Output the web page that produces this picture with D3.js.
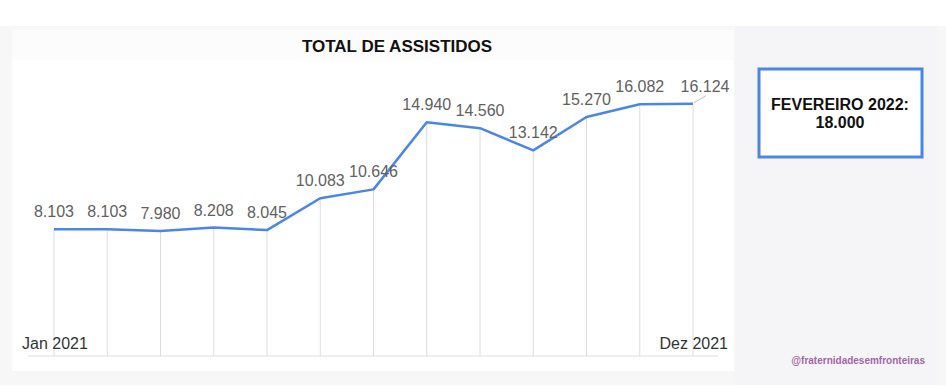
<!DOCTYPE html>
<meta charset="utf-8">
<script src="https://d3js.org/d3.v7.min.js"></script>
<style>
  body { margin: 0; background: #fff; }
  svg text { font-family: Arial, "Liberation Sans", sans-serif; }
</style>
<div id="chart"></div>
<script>
// data (13 points, first labelled Jan 2021, last Dez 2021)
var months = ["Jan 2021", "Fev 2021", "Mar 2021", "Abr 2021", "Mai 2021", "Jun 2021",
              "Jul 2021", "Ago 2021", "Set 2021", "Out 2021", "Nov 2021", "Dez 2021", "Dez 2021*"];
var assistidos = [8103, 8103, 7980, 8208, 8045, 10083, 10646, 14940, 14560, 13142, 15270, 16082, 16124];
var axisLabels = ["Jan 2021", "Dez 2021"];
var title = "TOTAL DE ASSISTIDOS";
var boxLines = ["FEVEREIRO 2022:", "18.000"];
var handle = "@fraternidadesemfronteiras";

var W = 946, H = 388;

var pt = d3.formatLocale({decimal: ",", thousands: ".", grouping: [3], currency: ["R$", ""]}).format(",");

var svg = d3.select("#chart").append("svg")
    .attr("width", W)
    .attr("height", H);

// page background (light grey paper, white strip on top)
svg.append("rect").attr("x", 0).attr("y", 26).attr("width", W).attr("height", 359).attr("fill", "#f7f7f8");
svg.append("rect").attr("x", 735).attr("y", 26).attr("width", 203).attr("height", 359).attr("fill", "#f5f4f6");
// chart panel
svg.append("rect").attr("x", 12).attr("y", 58).attr("width", 722).attr("height", 313).attr("fill", "#fff");
svg.append("rect").attr("x", 12).attr("y", 30).attr("width", 722).attr("height", 30).attr("fill", "#fcfcfc");

var x = d3.scalePoint()
    .domain(d3.range(months.length))
    .range([54, 693]);

var y = d3.scaleLinear()
    .domain([0, 20000])
    .range([356, 43]);

// title
svg.append("text")
    .attr("x", 397).attr("y", 52)
    .attr("text-anchor", "middle")
    .attr("font-size", "17px")
    .attr("font-weight", "bold")
    .attr("fill", "#111")
    .text(title);

// vertical grid lines, baseline to point
svg.selectAll(".grid")
    .data(assistidos)
    .enter().append("line")
    .attr("x1", (d, i) => x(i)).attr("x2", (d, i) => x(i))
    .attr("y1", y(0)).attr("y2", d => y(d))
    .attr("stroke", "#dcdcdc")
    .attr("stroke-width", 1);

// baseline
svg.append("line")
    .attr("x1", 28).attr("x2", 718)
    .attr("y1", y(0)).attr("y2", y(0))
    .attr("stroke", "#dedede")
    .attr("stroke-width", 1);

// line
var line = d3.line()
    .x((d, i) => x(i))
    .y(d => y(d));

svg.append("path")
    .datum(assistidos)
    .attr("d", line)
    .attr("fill", "none")
    .attr("stroke", "#4a86e8")
    .attr("stroke-width", 2.5)
    .attr("stroke-linejoin", "round");

// last label is pushed right with a small leader line
var last = assistidos.length - 1;
svg.append("line")
    .attr("x1", x(last) + 1).attr("y1", y(assistidos[last]) - 1)
    .attr("x2", x(last) + 13).attr("y2", y(assistidos[last]) - 8)
    .attr("stroke", "#bdbdbd")
    .attr("stroke-width", 1);

svg.selectAll(".lbl")
    .data(assistidos)
    .enter().append("text")
    .attr("x", (d, i) => x(i) + (i === last ? 12 : 0))
    .attr("y", d => y(d) - 12)
    .attr("text-anchor", "middle")
    .attr("font-size", "16px")
    .attr("fill", "#616161")
    .text(d => pt(d));

// x axis end labels
svg.append("text")
    .attr("x", x(0) - 32).attr("y", 349)
    .attr("font-size", "16px")
    .attr("fill", "#333")
    .text(axisLabels[0]);
svg.append("text")
    .attr("x", x(last) + 35).attr("y", 349)
    .attr("text-anchor", "end")
    .attr("font-size", "16px")
    .attr("fill", "#333")
    .text(axisLabels[1]);

// side box
svg.append("rect")
    .attr("x", 759).attr("y", 69)
    .attr("width", 163).attr("height", 88)
    .attr("fill", "#fff")
    .attr("stroke", "#4a86e8")
    .attr("stroke-width", 3);

svg.selectAll(".box")
    .data(boxLines)
    .enter().append("text")
    .attr("x", 840)
    .attr("y", (d, i) => 110 + i * 18)
    .attr("text-anchor", "middle")
    .attr("font-size", "16px")
    .attr("font-weight", "bold")
    .attr("fill", "#111")
    .text(d => d);

// handle
svg.append("text")
    .attr("x", 925).attr("y", 364)
    .attr("text-anchor", "end")
    .attr("font-size", "10px")
    .attr("font-weight", "bold")
    .attr("fill", "#a068a4")
    .text(handle);
</script>
